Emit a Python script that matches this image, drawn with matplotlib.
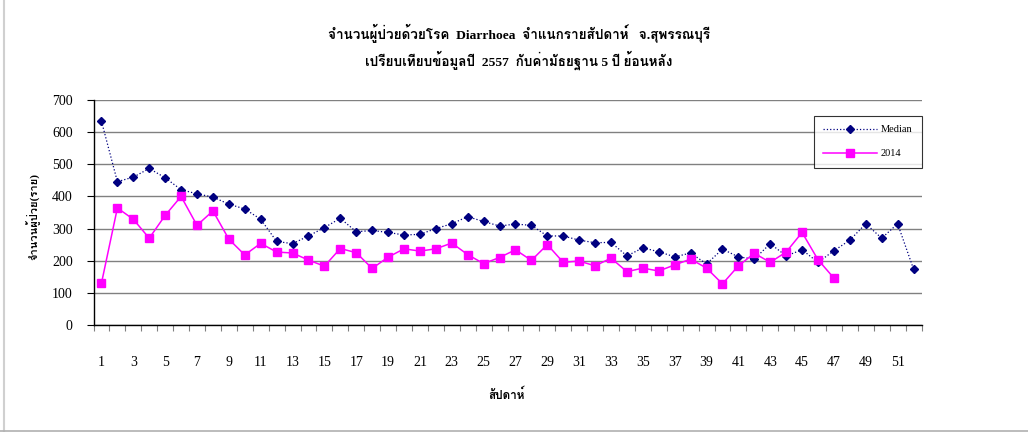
import matplotlib
matplotlib.use("Agg")
import matplotlib.pyplot as plt
from matplotlib import font_manager, ft2font
from matplotlib.ticker import FixedLocator


def findThaiFont():
    for f in font_manager.fontManager.ttflist:
        if "CJK" in f.name:
            continue
        try:
            if 0x0E08 in ft2font.FT2Font(f.fname).get_charmap():
                return f.name
        except Exception:
            pass
    return "DejaVu Sans"


thai = findThaiFont()
plt.rcParams["font.family"] = ["Liberation Serif", thai, "DejaVu Sans"]

weeks = list(range(1, 53))
median = [634, 446, 460, 487, 458, 421, 408, 398, 376, 361, 329, 260, 253, 277,
          303, 332, 290, 294, 288, 280, 282, 300, 315, 337, 322, 308, 314, 310,
          277, 277, 264, 256, 257, 215, 240, 228, 212, 224, 190, 236, 212, 205,
          253, 215, 234, 195, 231, 264, 315, 270, 315, 174]
cases2014 = [130, 364, 329, 270, 341, 400, 310, 355, 267, 218, 254, 227, 224, 202,
             183, 238, 225, 176, 211, 237, 230, 237, 255, 219, 191, 210, 234, 201,
             250, 195, 199, 184, 208, 166, 177, 168, 187, 205, 177, 128, 184, 223,
             195, 227, 288, 203, 146]
xticklabels = [str(w) for w in range(1, 53, 2)]

title1 = "จำนวนผู้ป่วยด้วยโรค  Diarrhoea  จำแนกรายสัปดาห์   จ.สุพรรณบุรี"
title2 = "เปรียบเทียบข้อมูลปี  2557  กับค่ามัธยฐาน 5 ปี ย้อนหลัง"

fig = plt.figure(figsize=(10.28, 4.32), dpi=100)
ax = fig.add_axes([93.5 / 1028, 1 - 325 / 432, 828 / 1028, 225 / 432])

ax.plot(weeks, median, color="#000080", linestyle=":", linewidth=0.9,
        marker="D", markersize=4.3, label="Median", zorder=3)
ax.plot(weeks[:len(cases2014)], cases2014, color="#FF00FF", linewidth=1.1,
        marker="s", markersize=5.3, label="2014", zorder=4)

ax.set_xlim(0.5, 52.5)
ax.set_ylim(0, 700)
ax.set_yticks(range(0, 701, 100))
ax.yaxis.grid(True, color="#808080", linewidth=1.0)
ax.set_axisbelow(True)

ax.xaxis.set_major_locator(FixedLocator(list(range(1, 53, 2))))
ax.set_xticklabels(xticklabels)
ax.xaxis.set_minor_locator(FixedLocator([w + 0.5 for w in range(0, 53)]))
ax.tick_params(axis="x", which="major", length=0, pad=22, labelsize=10)
ax.tick_params(axis="x", which="minor", length=4.5, color="#808080", width=0.8)
ax.tick_params(axis="y", length=5, pad=10, labelsize=10, width=0.8)

for side in ["top", "right"]:
    ax.spines[side].set_visible(False)
ax.spines["left"].set_linewidth(1.0)
ax.spines["bottom"].set_linewidth(1.0)

leg = ax.legend(loc="upper right", bbox_to_anchor=(1.0, 0.93), fontsize=7.5,
                frameon=True, fancybox=False, edgecolor="black",
                handlelength=5.2, handletextpad=0.3, labelspacing=1.4,
                borderpad=0.9, borderaxespad=0)
leg.get_frame().set_linewidth(0.8)

fig.text(0.505, 1 - 33 / 432, title1, ha="center", va="center",
         fontsize=9.7, fontweight="bold")
fig.text(0.505, 1 - 60 / 432, title2, ha="center", va="center",
         fontsize=9.7, fontweight="bold")
fig.text(33 / 1028, 1 - 216 / 432, "จำนวนผู้ป่วย(ราย)", rotation=90,
         ha="center", va="center", fontsize=8, fontweight="bold")
fig.text(507 / 1028, 1 - 395 / 432, "สัปดาห์", ha="center", va="center",
         fontsize=8.5, fontweight="bold")

# chart area border
fig.add_artist(plt.Line2D([4 / 1028, 4 / 1028], [0, 1], color="#d0d0d0", linewidth=1.5))
fig.add_artist(plt.Line2D([0, 1], [1.5 / 432, 1.5 / 432], color="#b0b0b0", linewidth=1.2))

fig.savefig("out.png", dpi=100)
